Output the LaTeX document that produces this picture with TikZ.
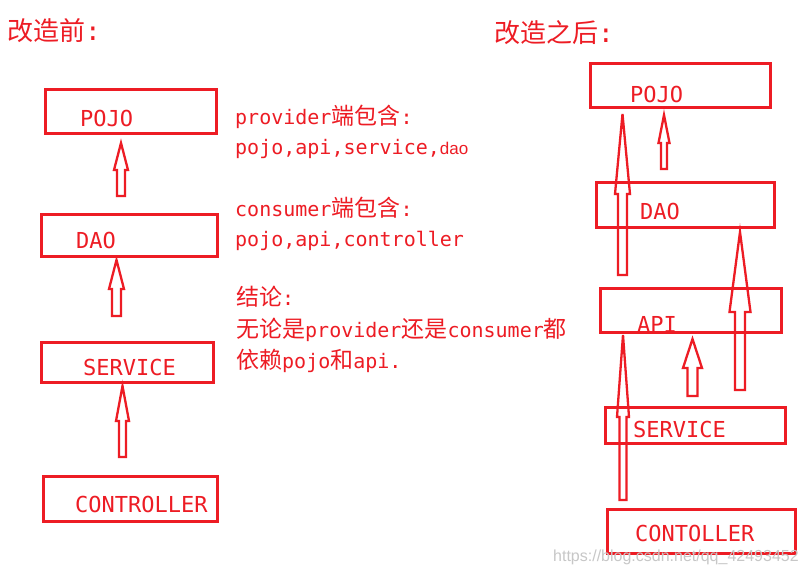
\documentclass[tikz,border=0pt]{standalone}
\usepackage{fontspec}
\newfontfamily\cjkf{Noto Sans CJK SC}
\newfontfamily\monof{DejaVu Sans Mono}
\newfontfamily\arialf{Liberation Sans}
\usetikzlibrary{calc}
\definecolor{pred}{RGB}{237,28,36}
\newcommand\zh[1]{{\cjkf\fontsize{23}{23}\selectfont #1}}
\newcommand\lat[1]{{\monof\fontsize{20}{20}\selectfont #1}}
\newcommand\ttlzh[1]{{\cjkf\fontsize{26}{26}\selectfont #1}}
\newcommand\ttllat[1]{{\monof\fontsize{26}{26}\selectfont #1}}
% block arrow: #1 tail coord, #2 tip coord, #3 head length, #4 shaft half width, #5 head half width
\newcommand\barrow[5]{%
  \draw[arrowline] ($(#1)+(-#4,0)$) -- ($(#2)+(-#4,#3)$) -- ($(#2)+(-#5,#3)$) -- (#2)
    -- ($(#2)+(#5,#3)$) -- ($(#2)+(#4,#3)$) -- ($(#1)+(#4,0)$) -- cycle;}
\tikzset{
  box/.style={draw=pred, line width=3pt, inner sep=0pt},
  lbl/.style={text=pred, font=\monof\fontsize{22}{22}\selectfont, anchor=base west, inner sep=0pt},
  txt/.style={text=pred, anchor=base west, inner sep=0pt},
  arrowline/.style={draw=pred, line width=2.3pt, line join=miter},
}
\begin{document}
\begin{tikzpicture}[x=1pt, y=-1pt]
\useasboundingbox (0,0) rectangle (806,567);
\fill[white] (0,0) rectangle (806,567);

% titles
\node[txt] (t1) at (7,41) {\ttlzh{改造前}\ttllat{:}};
\node[txt] (t2) at (494,43) {\ttlzh{改造之后}\ttllat{:}};

% left boxes
\node[box, minimum width=171pt, minimum height=44pt] (pojoL) at (130.5,112) {};
\node[box, minimum width=176pt, minimum height=42pt] (daoL) at (129,235) {};
\node[box, minimum width=172pt, minimum height=40pt] (servL) at (127,362) {};
\node[box, minimum width=174pt, minimum height=45pt] (ctrlL) at (130,498.5) {};
\node[lbl] (pojoLt) at (80,127) {POJO};
\node[lbl] (daoLt) at (76,248) {DAO};
\node[lbl] (servLt) at (83,375) {SERVICE};
\node[lbl] (ctrlLt) at (75,512) {CONTROLLER};

% left arrows
\coordinate (l1a) at (121,196); \coordinate (l1b) at (121,143);
\coordinate (l2a) at (116.5,316); \coordinate (l2b) at (116.5,260);
\coordinate (l3a) at (122.5,457); \coordinate (l3b) at (122.5,386);
\barrow{l1a}{l1b}{27}{4}{7}
\barrow{l2a}{l2b}{29}{4.5}{7.5}
\barrow{l3a}{l3b}{35}{3.5}{6.5}

% middle text
\node[txt] (m1) at (235,125) {\lat{provider}\zh{端包含}\lat{:}};
\node[txt] (m2) at (235,155) {\lat{pojo,api,service,}{\arialf\fontsize{17}{17}\selectfont dao}};
\node[txt] (m3) at (235,216) {\lat{consumer}\zh{端包含}\lat{:}};
\node[txt] (m4) at (235,246) {\lat{pojo,api,controller}};
\node[txt] (m5) at (236,305) {\zh{结论}\lat{:}};
\node[txt] (m6) at (236,337) {\zh{无论是}\lat{provider}\zh{还是}\lat{consumer}\zh{都}};
\node[txt] (m7) at (236,368) {\zh{依赖}\lat{pojo}\zh{和}\lat{api.}};

% right boxes
\node[box, minimum width=180pt, minimum height=44pt] (pojoR) at (680,86) {};
\node[box, minimum width=178pt, minimum height=45pt] (daoR) at (685,204.5) {};
\node[box, minimum width=181pt, minimum height=44pt] (apiR) at (690.5,310) {};
\node[box, minimum width=180pt, minimum height=36pt] (servR) at (695,425) {};
\node[box, minimum width=188pt, minimum height=44pt] (ctrlR) at (701,531) {};
\node[lbl] (pojoRt) at (630,103) {POJO};
\node[lbl] (daoRt) at (640,219) {DAO};
\node[lbl] (apiRt) at (637,332) {API};
\node[lbl] (servRt) at (633,437) {SERVICE};
\node[lbl] (ctrlRt) at (635,541) {CONTOLLER};

% right arrows
\coordinate (rAa) at (622.5,275); \coordinate (rAb) at (622.5,114);
\coordinate (rBa) at (664,169); \coordinate (rBb) at (664,115);
\coordinate (rCa) at (740,390); \coordinate (rCb) at (740,232);
\coordinate (rDa) at (692.5,396); \coordinate (rDb) at (692.5,339);
\coordinate (rEa) at (623,500); \coordinate (rEb) at (623,335);
\barrow{rAa}{rAb}{80}{4.5}{7.5}
\barrow{rBa}{rBb}{28}{3}{5.5}
\barrow{rCa}{rCb}{80}{5}{10.5}
\barrow{rDa}{rDb}{29}{5}{9.5}
\barrow{rEa}{rEb}{82}{3.5}{6}

% watermark
\node[anchor=base west, inner sep=0pt, text=black!22, font=\arialf\fontsize{16}{16}\selectfont] (wm) at (553,561) {https://blog.csdn.net/qq\_42493452};
\end{tikzpicture}
\end{document}
